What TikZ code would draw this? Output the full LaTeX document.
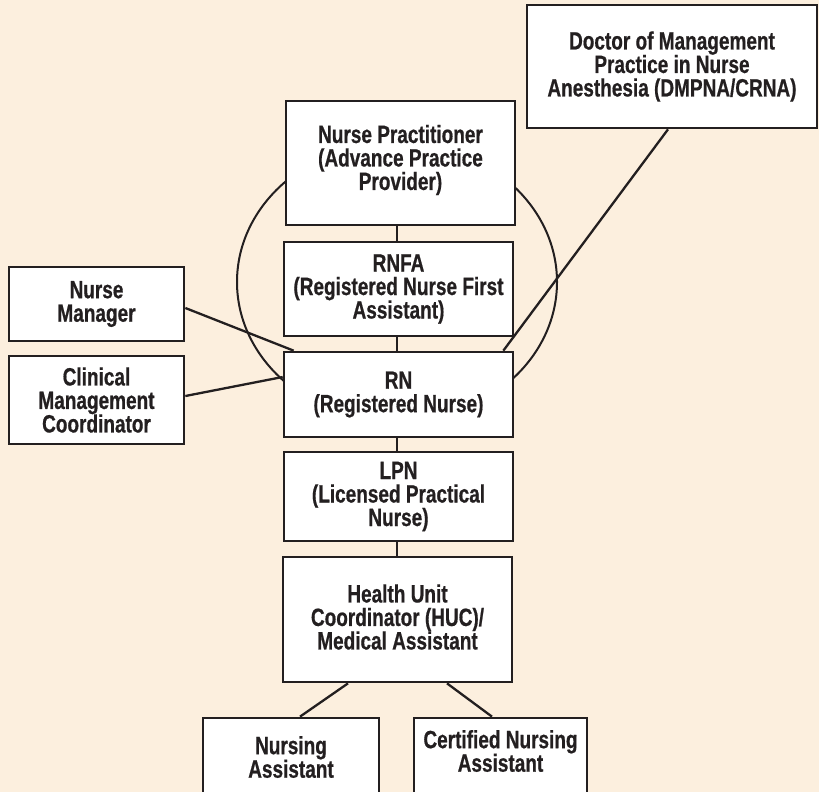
\documentclass[tikz,border=0pt]{standalone}
\usepackage{fontspec}
\setmainfont{Liberation Sans}[FakeStretch=0.76,FakeBold=0.6]
\usetikzlibrary{calc}
\definecolor{bgc}{RGB}{252,239,222}
\definecolor{ink}{RGB}{35,31,32}
\begin{document}
\begin{tikzpicture}[x=1pt,y=-1pt,
  box/.style={draw=ink, fill=white, line width=2.7pt, inner sep=0pt, align=center,
    font=\fontsize{25}{23.5}\selectfont\bfseries, text=ink},
  txt/.style={inner sep=0pt, align=center, font=\fontsize{25}{23.5}\selectfont\bfseries, text=ink},
  conn/.style={draw=ink, line width=2.3pt},
  ring/.style={draw=ink, line width=2pt}]
\fill[bgc] (0,0) rectangle (819,792);
\useasboundingbox (0,0) rectangle (819,792);
\begin{scope}
\clip (0,0) rectangle (819,792);
\draw[ring] (397,282) ellipse [x radius=160, y radius=140];

\node[box, minimum width=290pt, minimum height=123pt] (doc) at (672,66.5)
  {Doctor of Management\\Practice in Nurse\\Anesthesia (DMPNA/CRNA)};
\node[box, minimum width=229pt, minimum height=124pt] (np) at (400.5,163) {};
\node[txt] (npt) at (400.5,160) {Nurse Practitioner\\(Advance Practice\\Provider)};
\node[box, minimum width=229pt, minimum height=94pt] (rnfa) at (398.5,289)
  {RNFA\\(Registered Nurse First\\Assistant)};
\node[box, minimum width=175pt, minimum height=74pt] (nm) at (96.5,304)
  {Nurse\\Manager};
\node[box, minimum width=175pt, minimum height=88pt] (cmc) at (96.5,400)
  {Clinical\\Management\\Coordinator};
\node[box, minimum width=229pt, minimum height=85pt] (rn) at (398.5,394.5)
  {RN\\(Registered Nurse)};
\node[box, minimum width=229pt, minimum height=89pt] (lpn) at (398.5,496.5)
  {LPN\\(Licensed Practical\\Nurse)};
\node[box, minimum width=229pt, minimum height=125pt] (huc) at (397.5,619.5) {};
\node[txt] (huct) at (397.5,617) {Health Unit\\Coordinator (HUC)/\\Medical Assistant};
\node[box, minimum width=176pt, minimum height=82pt] (na) at (291,759) {};
\node[txt] (nat) at (291,757) {Nursing\\Assistant};
\node[box, minimum width=173pt, minimum height=82pt] (cna) at (500.5,759) {};
\node[txt] (cnat) at (500.5,751) {Certified Nursing\\Assistant};

\draw[conn] (rnfa.north -| 397,0) -- (np.south -| 397,0);
\draw[conn] (rn.north -| 397,0) -- (rnfa.south -| 397,0);
\draw[conn] (lpn.north -| 397,0) -- (rn.south -| 397,0);
\draw[conn] (huc.north -| 397,0) -- (lpn.south -| 397,0);
\draw[conn] ($(nm.east)+(0,4)$) -- ($(rn.north west)+(11,0)$);
\draw[conn] ($(cmc.east)+(0,-4)$) -- ($(rn.west)+(0,-17.5)$);
\draw[conn] ($(doc.south)+(-4,0)$) -- ($(rn.north east)+(-11,0)$);
\draw[conn] ($(huc.south)+(-49.5,0)$) -- ($(na.north)+(9,0)$);
\draw[conn] ($(huc.south)+(49.5,0)$) -- ($(cna.north)+(-8.5,0)$);
\end{scope}
\end{tikzpicture}
\end{document}
